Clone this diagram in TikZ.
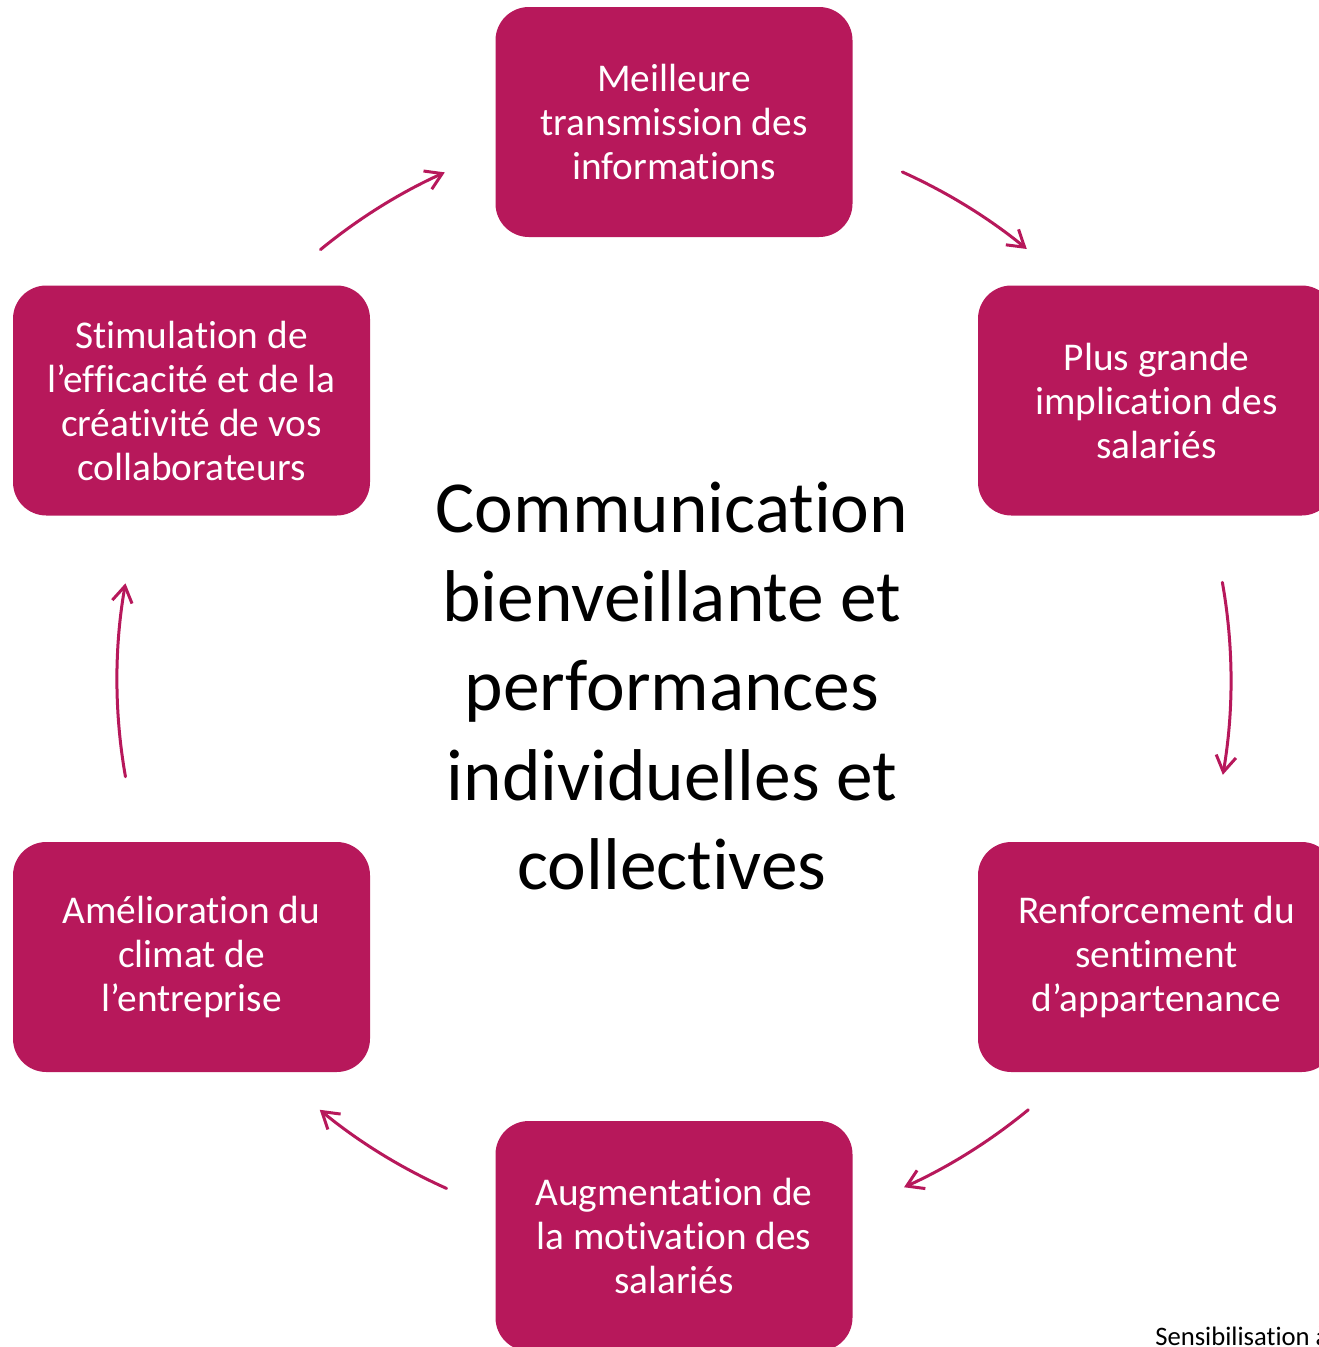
\documentclass[tikz,border=0pt]{standalone}
\usepackage{fontspec}
\setmainfont{Carlito}[Ligatures=NoCommon]
\usetikzlibrary{arrows.meta}
\definecolor{berry}{RGB}{183,24,91}
\begin{document}
\begin{tikzpicture}[x=0.75pt,y=0.75pt,
  stage/.style={fill=berry, rounded corners=25pt, minimum width=267.75pt,
    minimum height=172.5pt, text=white, align=center, inner sep=0pt,
    font=\fontsize{29.5}{33}\selectfont},
  cyc/.style={draw=berry, line width=2.25pt, line cap=round, line join=round,
    -{Straight Barb[length=12pt,width=15pt,line width=2.25pt]}}
]
\useasboundingbox (0,0) rectangle (1319,-1347);
\clip (0,0) rectangle (1319,-1347);

% hub of the cycle
\coordinate (hub) at (674,-680);

% the six stages
\node[stage] (s1) at (674,-122)  {Meilleure\\transmission des\\informations};
\node[stage] (s2) at (1156.5,-400.5) {Plus grande\\implication des\\salariés};
\node[stage] (s3) at (1156.5,-957) {Renforcement du\\sentiment\\d’appartenance};
\node[stage] (s4) at (674,-1236) {Augmentation de\\la motivation des\\salariés};
\node[stage] (s5) at (191.5,-957) {Amélioration du\\climat de\\l’entreprise};
\node[stage] (s6) at (191.5,-400.5) {Stimulation de\\l’efficacité et de la\\créativité de vos\\collaborateurs};

% central statement
\node[font=\fontsize{55}{67}\selectfont, align=center, inner sep=0pt] (theme)
  at (672,-686) {Communication\\bienveillante et\\performances\\individuelles et\\collectives};

% footer
\node[anchor=base west, inner sep=0pt, font=\fontsize{20}{24}\selectfont] (note)
  at (1155,-1345) {Sensibilisation à};

% circular arrows between the stages
\path (hub) ++(65.8:557)  coordinate (a1);
\path (hub) ++(10.1:557)  coordinate (a2);
\path (hub) ++(-50.5:557) coordinate (a3);
\path (hub) ++(-114.1:557) coordinate (a4);
\path (hub) ++(190:557)   coordinate (a5);
\path (hub) ++(129.4:557) coordinate (a6);
\draw[cyc] (a1) arc[start angle=65.8,  end angle=50.7,  radius=557];
\draw[cyc] (a2) arc[start angle=10.1,  end angle=-9.8,  radius=557];
\draw[cyc] (a3) arc[start angle=-50.5, end angle=-65.6, radius=557];
\draw[cyc] (a4) arc[start angle=-114.1, end angle=-129.5, radius=557];
\draw[cyc] (a5) arc[start angle=190,   end angle=170,   radius=557];
\draw[cyc] (a6) arc[start angle=129.4, end angle=114.3, radius=557];
\end{tikzpicture}
\end{document}
